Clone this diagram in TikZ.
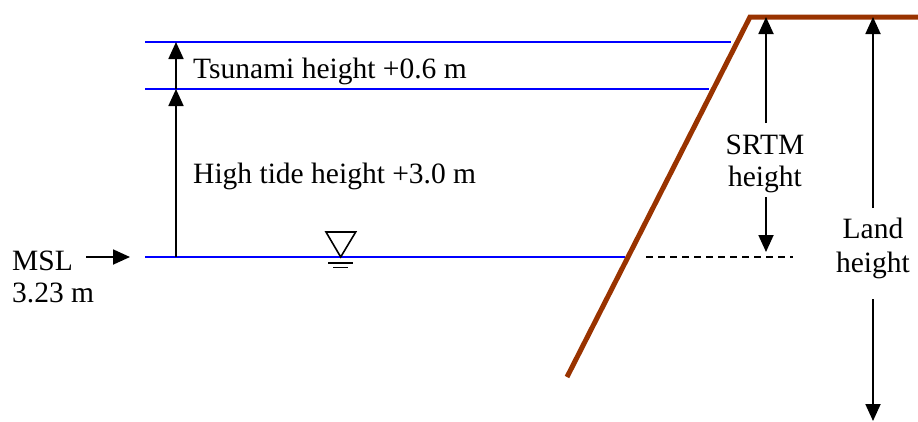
\documentclass[tikz,border=0pt]{standalone}
\usepackage{fontspec}
\setmainfont{Liberation Serif}
\usetikzlibrary{arrows.meta}
\definecolor{land}{RGB}{153,51,0}
\definecolor{water}{RGB}{0,0,255}
\begin{document}
\begin{tikzpicture}[x=1pt,y=-1pt,
  lbl/.style={inner sep=0pt,font=\fontsize{29.5}{34}\selectfont},
  wline/.style={draw=water,line width=1.8pt},
  dim/.style={draw=black,line width=1.8pt,-{Triangle[length=17pt,width=15pt]}},
  ground/.style={draw=land,line width=5pt,line join=miter}]
\useasboundingbox (0,0) rectangle (918,421);
% water levels
\coordinate (t1) at (145,42);  \coordinate (t2) at (731,42);
\coordinate (h1) at (145,89);  \coordinate (h2) at (709,89);
\coordinate (m1) at (145,257); \coordinate (m2) at (625,257);
\draw[wline] (t1) -- (t2);
\draw[wline] (h1) -- (h2);
\draw[wline] (m1) -- (m2);
% land profile
\coordinate (g1) at (567,377); \coordinate (g2) at (750,17); \coordinate (g3) at (918,17);
\draw[ground] (g1) -- (g2) -- (g3);
% dashed reference
\coordinate (d1) at (646,257); \coordinate (d2) at (793,257);
\draw[line width=1.5pt,dash pattern=on 7pt off 5pt] (d1) -- (d2);
% left arrows
\coordinate (a0) at (176,257); \coordinate (a1) at (176,89); \coordinate (a2) at (176,42);
\draw[dim] (a0) -- (a1);
\draw[dim] (a1) -- (a2);
\node[lbl,anchor=base west] (tsu) at (193,78) {Tsunami height +0.6 m};
\node[lbl,anchor=base west] (tide) at (193,183) {High tide height +3.0 m};
% MSL
\node[lbl,anchor=base west] (msl) at (12,270) {MSL};
\node[lbl,anchor=base west] (mslv) at (12,302) {3.23 m};
\coordinate (ms1) at (86,257); \coordinate (ms2) at (130,257);
\draw[dim] (ms1) -- (ms2);
% water symbol
\coordinate (w1) at (326,232); \coordinate (w2) at (355.7,232); \coordinate (w3) at (340.7,257);
\draw[line width=1.6pt,line join=miter] (w1) -- (w2) -- (w3) -- cycle;
\coordinate (w4) at (328,263); \coordinate (w5) at (353,263);
\coordinate (w6) at (333,267.5); \coordinate (w7) at (348,267.5);
\draw[line width=1.6pt] (w4) -- (w5);
\draw[line width=1.6pt] (w6) -- (w7);
% SRTM height
\node[lbl,anchor=base] (srtm1) at (765,154) {SRTM};
\node[lbl,anchor=base] (srtm2) at (765,186) {height};
\coordinate (s0) at (766,123); \coordinate (s1) at (766,17);
\coordinate (s2) at (766,197); \coordinate (s3) at (766,252);
\draw[dim] (s0) -- (s1);
\draw[dim] (s2) -- (s3);
% Land height
\node[lbl,anchor=base] (land1) at (873,238) {Land};
\node[lbl,anchor=base] (land2) at (873,272) {height};
\coordinate (l0) at (873,208); \coordinate (l1) at (873,17);
\coordinate (l2) at (873,299); \coordinate (l3) at (873,421);
\draw[dim] (l0) -- (l1);
\draw[dim] (l2) -- (l3);
\end{tikzpicture}
\end{document}
